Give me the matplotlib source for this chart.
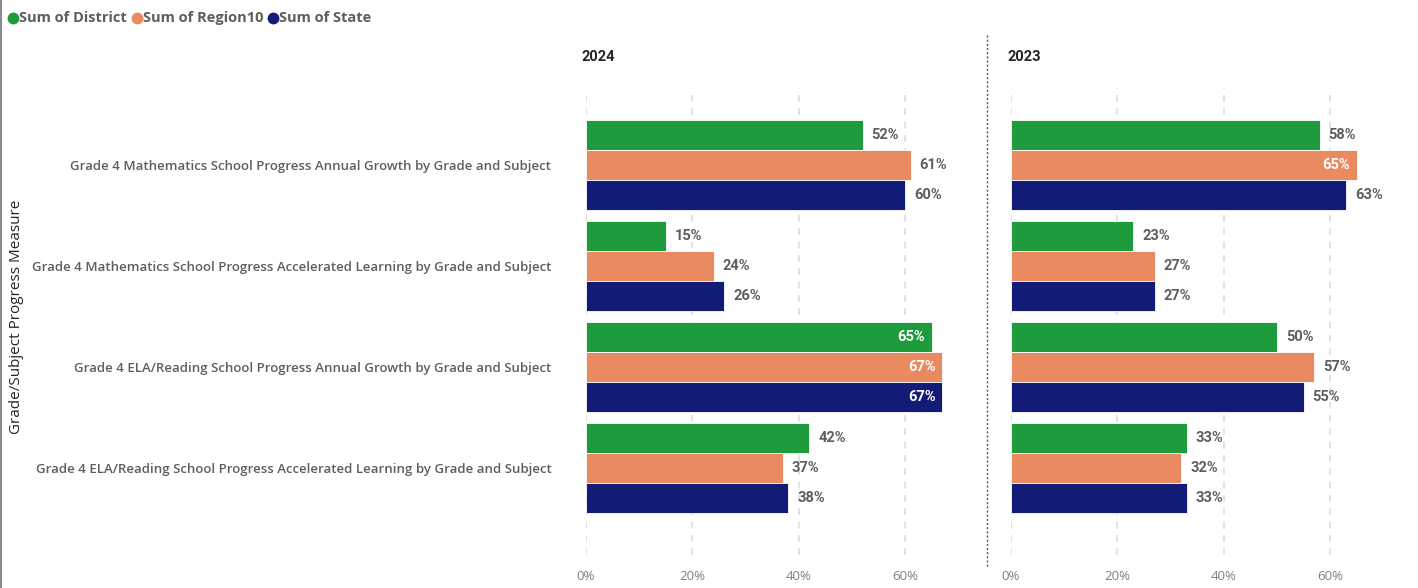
import matplotlib
matplotlib.use("Agg")
import matplotlib.pyplot as plt
from matplotlib.lines import Line2D
import numpy as np

categories = [
    "Grade 4 Mathematics School Progress Annual Growth by Grade and Subject",
    "Grade 4 Mathematics School Progress Accelerated Learning by Grade and Subject",
    "Grade 4 ELA/Reading School Progress Annual Growth by Grade and Subject",
    "Grade 4 ELA/Reading School Progress Accelerated Learning by Grade and Subject",
]
series_names = ["Sum of District", "Sum of Region10", "Sum of State"]
years = ["2024", "2023"]
district_2024 = [52, 15, 65, 42]
region10_2024 = [61, 24, 67, 37]
state_2024 = [60, 26, 67, 38]
district_2023 = [58, 23, 50, 33]
region10_2023 = [65, 27, 57, 32]
state_2023 = [63, 27, 55, 33]
x_ticks = [0, 20, 40, 60]
tick_labels = ["0%", "20%", "40%", "60%"]
y_axis_title = "Grade/Subject Progress Measure"

colors = ["#1E9B3C", "#EA8A61", "#121C76"]
W, H = 1418, 588
fig = plt.figure(figsize=(W / 100, H / 100), dpi=100)

def fx(px):
    return px / W

def fy(py):
    return 1 - py / H

top_px, bot_px = 88, 555
pitch = 101.0
c0 = 165.0
ylim_top = -(c0 - top_px) / pitch
ylim_bot = (bot_px - c0) / pitch
panels = [
    (586, 70, [district_2024, region10_2024, state_2024], years[0]),
    (1011, 72, [district_2023, region10_2023, state_2023], years[1]),
]
px_per_unit = 5.32
lab_font = "Roboto"
for i, (x0, xmax, data, yr) in enumerate(panels):
    width_px = xmax * px_per_unit
    ax = fig.add_axes([fx(x0), fy(bot_px), fx(width_px), (bot_px - top_px) / H])
    ax.set_xlim(0, xmax)
    ax.set_ylim(ylim_bot, ylim_top)
    for s in ax.spines.values():
        s.set_visible(False)
    ax.set_xticks(x_ticks)
    ax.set_xticklabels(tick_labels)
    ax.tick_params(axis="x", length=0, pad=11, labelsize=9.5, labelcolor="#808080")
    for lab in ax.get_xticklabels():
        lab.set_fontfamily("Open Sans")
    for xt in x_ticks:
        ax.axvline(xt, color="#DDDDDD", lw=1.2, ls=(0, (4, 4)), zorder=0)
    y = np.arange(len(categories))
    bh = 0.3
    for j, vals in enumerate(data):
        yy = y + (j - 1) * bh
        ax.barh(yy, vals, height=bh, color=colors[j], edgecolor="white", linewidth=0.6, zorder=2)
        for v, yv in zip(vals, yy):
            if v + 8 > xmax:
                ax.text(v - 1.3, yv, f"{v}%", ha="right", va="center", color="white",
                        fontsize=10.5, fontweight="bold", fontfamily=lab_font, zorder=3)
            else:
                ax.text(v + 1.7, yv, f"{v}%", ha="left", va="center", color="#605E5C",
                        fontsize=10.5, fontweight="bold", fontfamily=lab_font, zorder=3)
    if i == 0:
        ax.set_yticks(y)
        ax.set_yticklabels(categories)
        ax.tick_params(axis="y", length=0, pad=25, labelsize=9.5, labelcolor="#605E5C")
        for lab in ax.get_yticklabels():
            lab.set_fontfamily("Open Sans")
            lab.set_fontweight("semibold")
    else:
        ax.set_yticks([])
    fig.text(fx(x0 - 4), fy(57), yr, ha="left", va="center", fontsize=10.5,
             fontweight="bold", color="#252423", fontfamily=lab_font)

# divider
fig.add_artist(Line2D([fx(987), fx(987)], [fy(35), fy(568)], color="#555555", lw=1,
                      ls=(0, (1.5, 1.5))))
# left border
fig.add_artist(Line2D([fx(1), fx(1)], [0, 1], color="#8A8A8A", lw=1.5))

# y axis title
fig.text(fx(17), fy(317), y_axis_title, rotation=90, ha="center", va="center",
         fontsize=11, color="#252423", fontfamily="Open Sans")

# legend
lx = 8
for name, c in zip(series_names, colors):
    fig.add_artist(Line2D([fx(lx + 5)], [fy(18)], marker="o", markersize=7.5,
                          color=c, lw=0))
    t = fig.text(fx(lx + 11), fy(18), name, ha="left", va="center", fontsize=10.5,
                 fontweight="bold", color="#605E5C", fontfamily="Open Sans")
    fig.canvas.draw()
    bb = t.get_window_extent()
    lx = bb.x1 + 5

fig.savefig("out.png", dpi=100)
